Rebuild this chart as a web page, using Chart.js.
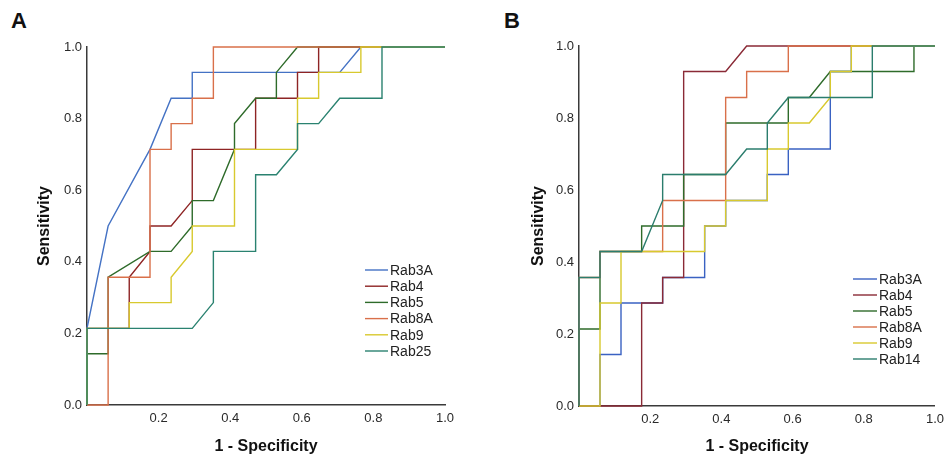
<!DOCTYPE html>
<html>
<head>
<meta charset="utf-8">
<script src="https://cdn.jsdelivr.net/npm/chart.js@4"></script>
<style>
  body { margin: 0; background: #fff; width: 950px; height: 457px; position: relative; overflow: hidden; }
  .wrap { position: absolute; top: 0; height: 457px; }
  #wrapA { left: 0; width: 475px; }
  #wrapB { left: 490px; width: 460px; }
  .tag { position: absolute; top: 8px; font: bold 22px "Liberation Sans", Arial, sans-serif; color: #111; }
</style>
</head>
<body>
<div class="tag" style="left:11px">A</div>
<div class="tag" style="left:504px">B</div>
<div class="wrap" id="wrapA"><canvas id="rocA" width="475" height="457"></canvas></div>
<div class="wrap" id="wrapB"><canvas id="rocB" width="460" height="457"></canvas></div>
<script>
// ROC curves, 1 - specificity (x) against sensitivity (y)

// panel A
const labelsA = ["Rab3A", "Rab4", "Rab5", "Rab8A", "Rab9", "Rab25"];
const colorsA = ["#4472c4", "#8e2424", "#2e6b2a", "#d9704a", "#d8c92e", "#2a8270"];

const rab3aX_A = [0, 0, 0.059, 0.176, 0.235, 0.294, 0.294, 0.706, 0.765, 1];
const rab3aY_A = [0, 0.214, 0.5, 0.714, 0.857, 0.857, 0.929, 0.929, 1, 1];
const rab4X_A = [0, 0, 0.118, 0.118, 0.176, 0.176, 0.235, 0.294, 0.294, 0.471, 0.471, 0.588, 0.588, 0.647, 0.647, 1];
const rab4Y_A = [0, 0.214, 0.214, 0.357, 0.429, 0.5, 0.5, 0.571, 0.714, 0.714, 0.857, 0.857, 0.929, 0.929, 1, 1];
const rab5X_A = [0, 0, 0.059, 0.059, 0.176, 0.235, 0.294, 0.294, 0.353, 0.412, 0.412, 0.471, 0.529, 0.529, 0.588, 1];
const rab5Y_A = [0, 0.143, 0.143, 0.357, 0.429, 0.429, 0.5, 0.571, 0.571, 0.714, 0.786, 0.857, 0.857, 0.929, 1, 1];
const rab8aX_A = [0, 0.059, 0.059, 0.176, 0.176, 0.235, 0.235, 0.294, 0.294, 0.353, 0.353, 1];
const rab8aY_A = [0, 0, 0.357, 0.357, 0.714, 0.714, 0.786, 0.786, 0.857, 0.857, 1, 1];
const rab9X_A = [0, 0, 0.118, 0.118, 0.235, 0.235, 0.294, 0.294, 0.412, 0.412, 0.588, 0.588, 0.647, 0.647, 0.765, 0.765, 1];
const rab9Y_A = [0, 0.214, 0.214, 0.286, 0.286, 0.357, 0.429, 0.5, 0.5, 0.714, 0.714, 0.857, 0.857, 0.929, 0.929, 1, 1];
const rab25X_A = [0, 0, 0.294, 0.353, 0.353, 0.471, 0.471, 0.529, 0.588, 0.588, 0.647, 0.706, 0.824, 0.824, 1];
const rab25Y_A = [0, 0.214, 0.214, 0.286, 0.429, 0.429, 0.643, 0.643, 0.714, 0.786, 0.786, 0.857, 0.857, 1, 1];

// panel B
const labelsB = ["Rab3A", "Rab4", "Rab5", "Rab8A", "Rab9", "Rab14"];
const colorsB = ["#3a62c2", "#8a2a36", "#2e6b2a", "#d9704a", "#d8c92e", "#2b7d6d"];

const rab3aX_B = [0, 0.059, 0.059, 0.118, 0.118, 0.235, 0.235, 0.353, 0.353, 0.412, 0.412, 0.529, 0.529, 0.588, 0.588, 0.706, 0.706, 0.765, 0.765, 1];
const rab3aY_B = [0, 0, 0.143, 0.143, 0.286, 0.286, 0.357, 0.357, 0.5, 0.5, 0.571, 0.571, 0.643, 0.643, 0.714, 0.714, 0.929, 0.929, 1, 1];
const rab4X_B = [0, 0.176, 0.176, 0.235, 0.235, 0.294, 0.294, 0.412, 0.471, 1];
const rab4Y_B = [0, 0, 0.286, 0.286, 0.357, 0.357, 0.929, 0.929, 1, 1];
const rab5X_B = [0, 0, 0.059, 0.059, 0.176, 0.176, 0.294, 0.294, 0.412, 0.412, 0.588, 0.588, 0.647, 0.706, 0.941, 0.941, 1];
const rab5Y_B = [0, 0.214, 0.214, 0.429, 0.429, 0.5, 0.5, 0.643, 0.643, 0.786, 0.786, 0.857, 0.857, 0.929, 0.929, 1, 1];
const rab8aX_B = [0, 0, 0.059, 0.059, 0.176, 0.235, 0.235, 0.412, 0.412, 0.471, 0.471, 0.588, 0.588, 1];
const rab8aY_B = [0, 0.357, 0.357, 0.429, 0.429, 0.429, 0.571, 0.571, 0.857, 0.857, 0.929, 0.929, 1, 1];
const rab9X_B = [0, 0.059, 0.059, 0.118, 0.118, 0.353, 0.353, 0.412, 0.412, 0.529, 0.529, 0.588, 0.588, 0.647, 0.706, 0.706, 0.765, 0.765, 1];
const rab9Y_B = [0, 0, 0.286, 0.286, 0.429, 0.429, 0.5, 0.5, 0.571, 0.571, 0.714, 0.714, 0.786, 0.786, 0.857, 0.929, 0.929, 1, 1];
const rab14X_B = [0, 0, 0.059, 0.059, 0.176, 0.235, 0.235, 0.412, 0.471, 0.529, 0.529, 0.588, 0.824, 0.824, 1];
const rab14Y_B = [0, 0.357, 0.357, 0.429, 0.429, 0.571, 0.643, 0.643, 0.714, 0.714, 0.786, 0.857, 0.857, 1, 1];

const tickVals = [0, 0.2, 0.4, 0.6, 0.8, 1.0];

const FONT = '"Liberation Sans", Arial, sans-serif';

function toPoints(xs, ys) {
  return xs.map((x, i) => ({ x: x, y: ys[i] }));
}

// legend drawn inside the plot, line sample + label
const insideLegend = {
  id: 'insideLegend',
  afterDatasetsDraw(chart, args, opts) {
    const ctx = chart.ctx;
    ctx.save();
    ctx.font = '14px ' + FONT;
    ctx.textBaseline = 'middle';
    ctx.textAlign = 'left';
    chart.data.datasets.forEach((ds, i) => {
      const y = opts.y + i * opts.gap;
      ctx.strokeStyle = ds.borderColor;
      ctx.lineWidth = 1.4;
      ctx.beginPath();
      ctx.moveTo(opts.x, y);
      ctx.lineTo(opts.x + opts.len, y);
      ctx.stroke();
      ctx.fillStyle = '#222';
      ctx.fillText(ds.label, opts.x + opts.len + 2, y + 1);
    });
    ctx.restore();
  }
};

function rocChart(canvasId, labels, colors, series, g) {
  const datasets = series.map((s, i) => ({
    label: labels[i],
    data: toPoints(s[0], s[1]),
    borderColor: colors[i],
    borderWidth: 1.4,
    pointRadius: 0,
    tension: 0,
    fill: false,
    clip: 4,
    order: series.length - i
  }));

  return new Chart(document.getElementById(canvasId), {
    type: 'line',
    data: { datasets: datasets },
    plugins: [insideLegend],
    options: {
      responsive: false,
      animation: false,
      layout: { padding: { left: 0, top: g.top, right: g.right, bottom: 0 } },
      plugins: {
        legend: { display: false },
        tooltip: { enabled: false },
        insideLegend: g.legend
      },
      scales: {
        x: {
          type: 'linear',
          min: 0, max: 1,
          afterFit: s => { s.height = g.xHeight; },
          afterBuildTicks: s => { s.ticks = tickVals.map(v => ({ value: v })); },
          ticks: {
            padding: 6,
            color: '#2a2a2a',
            font: { family: FONT, size: 13 },
            callback: v => v === 0 ? '' : v.toFixed(1)
          },
          grid: { display: false, drawTicks: false },
          border: { display: true, color: '#3a3a3a', width: 1.5 },
          title: {
            display: true,
            text: '1 - Specificity',
            color: '#111',
            font: { family: FONT, size: 16, weight: 'bold' },
            padding: { top: 0, bottom: 1 }
          }
        },
        y: {
          type: 'linear',
          min: 0, max: 1,
          afterFit: s => { s.width = g.yWidth; },
          afterBuildTicks: s => { s.ticks = tickVals.map(v => ({ value: v })); },
          ticks: {
            padding: 5,
            color: '#2a2a2a',
            font: { family: FONT, size: 13 },
            callback: v => v.toFixed(1)
          },
          grid: { display: false, drawTicks: false },
          border: { display: true, color: '#3a3a3a', width: 1.5 },
          title: {
            display: true,
            text: 'Sensitivity',
            color: '#111',
            font: { family: FONT, size: 16, weight: 'bold' },
            padding: { top: g.yTitlePad, bottom: 0 }
          }
        }
      }
    }
  });
}

rocChart('rocA', labelsA, colorsA, [
  [rab3aX_A, rab3aY_A], [rab4X_A, rab4Y_A], [rab5X_A, rab5Y_A],
  [rab8aX_A, rab8aY_A], [rab9X_A, rab9Y_A], [rab25X_A, rab25Y_A]
], { top: 47, right: 30, xHeight: 52, yWidth: 87, yTitlePad: 35,
     legend: { x: 365, y: 270, gap: 16.2, len: 23 } });

rocChart('rocB', labelsB, colorsB, [
  [rab3aX_B, rab3aY_B], [rab4X_B, rab4Y_B], [rab5X_B, rab5Y_B],
  [rab8aX_B, rab8aY_B], [rab9X_B, rab9Y_B], [rab14X_B, rab14Y_B]
], { top: 46, right: 13, xHeight: 51, yWidth: 89, yTitlePad: 39,
     legend: { x: 363, y: 279, gap: 16, len: 24 } });
</script>
</body>
</html>
